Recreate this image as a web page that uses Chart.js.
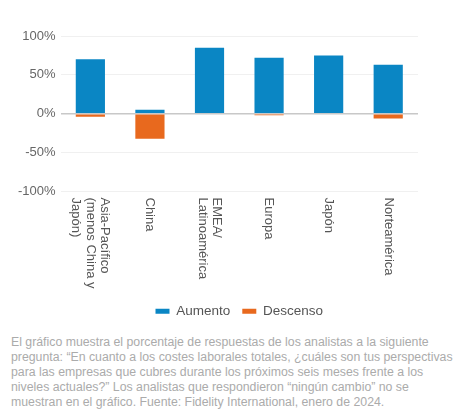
<!DOCTYPE html>
<html>
<head>
<meta charset="utf-8">
<script src="https://cdn.jsdelivr.net/npm/chart.js@4"></script>
<style>
  body { margin: 0; background: #fff; width: 464px; height: 417px; overflow: hidden; }
  #wrap { position: absolute; left: 0; top: 0; width: 464px; height: 330px; }
  #note { position: absolute; left: 11px; top: 335px; width: 450px;
          font-family: "Liberation Sans", Arial, sans-serif; font-size: 12.3px;
          line-height: 15px; color: #ababab; }
</style>
</head>
<body>
<div id="wrap"><canvas id="chart"></canvas></div>
<div id="note">El gráfico muestra el porcentaje de respuestas de los analistas a la siguiente pregunta: “En cuanto a los costes laborales totales, ¿cuáles son tus perspectivas para las empresas que cubres durante los próximos seis meses frente a los niveles actuales?” Los analistas que respondieron “ningún cambio” no se muestran en el gráfico. Fuente: Fidelity International, enero de 2024.</div>
<script>
const regions = [
  ['Asia-Pacífico', '(menos China y', 'Japón)'],
  'China',
  ['EMEA/', 'Latinoamérica'],
  'Europa',
  'Japón',
  'Norteamérica'
]
const aumento = [70, 5, 85, 72, 75, 63]
const descenso = [-4, -32, 0, -2, 0, -6]
const yTicks = [-100, -50, 0, 50, 100]

const font = "'Liberation Sans', Arial, sans-serif"

// x labels read top-to-bottom (clockwise), chart.js only rotates the other way
const downLabels = {
  id: 'downLabels',
  afterDraw(chart) {
    const ctx = chart.ctx
    const xs = chart.scales.x
    const top = chart.scales.y.bottom + 6
    const lh = 14.5
    ctx.save()
    ctx.fillStyle = '#555'
    ctx.font = '13px ' + font
    ctx.textAlign = 'left'
    ctx.textBaseline = 'middle'
    regions.forEach((lab, i) => {
      const lines = Array.isArray(lab) ? lab : [lab]
      ctx.save()
      ctx.translate(xs.getPixelForTick(i), top)
      ctx.rotate(Math.PI / 2)
      lines.forEach((t, j) => ctx.fillText(t, 0, (j - (lines.length - 1) / 2) * lh))
      ctx.restore()
    })
    ctx.restore()
  }
}

new Chart(document.getElementById('chart'), {
  type: 'bar',
  data: {
    labels: regions,
    datasets: [
      { label: 'Aumento', data: aumento, backgroundColor: '#0a86c4' },
      { label: 'Descenso', data: descenso, backgroundColor: '#e8691e' }
    ]
  },
  plugins: [downLabels],
  options: {
    responsive: true,
    maintainAspectRatio: false,
    animation: false,
    layout: { padding: { top: 36, right: 46, left: 13, bottom: 2 } },
    datasets: { bar: { categoryPercentage: 1, barPercentage: 0.49 } },
    plugins: {
      tooltip: { enabled: false },
      legend: {
        position: 'bottom',
        fullSize: false,
        labels: {
          boxWidth: 14, boxHeight: 5, padding: 12,
          color: '#555', font: { family: font, size: 13.5 }
        }
      }
    },
    scales: {
      x: {
        stacked: true,
        grid: { display: false },
        border: { display: false },
        ticks: { display: false },
        afterFit: s => { s.height = 101 }
      },
      y: {
        stacked: true,
        min: -100, max: 100,
        afterBuildTicks: axis => { axis.ticks = yTicks.map(v => ({ value: v })) },
        border: { display: false },
        grid: {
          drawTicks: false,
          color: ctx => ctx.tick && ctx.tick.value === 0 ? '#c8c8c8' : '#f0f0f0',
          lineWidth: ctx => ctx.tick && ctx.tick.value === 0 ? 1.5 : 1
        },
        ticks: {
          padding: 5,
          color: '#666', font: { family: font, size: 13 },
          callback: v => v + '%'
        }
      }
    }
  }
})
</script>
</body>
</html>
